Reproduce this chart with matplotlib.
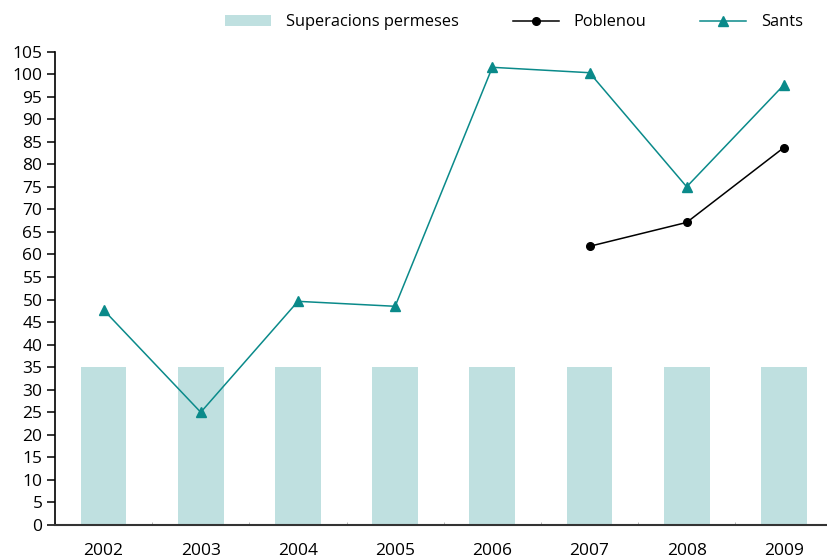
import numpy as np
import matplotlib
matplotlib.use("Agg")
import matplotlib.pyplot as plt

# datos
anys = ["2002", "2003", "2004", "2005", "2006", "2007", "2008", "2009"]
superacions = [35, 35, 35, 35, 35, 35, 35, 35]
sants = [47.7, 25, 49.6, 48.5, 101.5, 100.3, 75, 97.6]
poblenou = [np.nan, np.nan, np.nan, np.nan, np.nan, 61.8, 67.1, 83.7]

plt.rcParams['font.family'] = ['Open Sans', 'DejaVu Sans']

fig = plt.figure(figsize=(8.28, 5.6), dpi=100)
ax = fig.add_axes([0.0664, 0.0625, 0.939, 0.8455])

x = np.arange(len(anys))
b = ax.bar(x, superacions, width=0.47, color="#bfe0e0", label="Superacions permeses", zorder=1)
l1, = ax.plot(x, poblenou, color="black", lw=1.1, marker="o", ms=5.5, label="Poblenou", zorder=3)
l2, = ax.plot(x, sants, color="#0a8a8a", lw=1.1, marker="^", ms=6.5, label="Sants", zorder=3)

ax.set_xlim(-0.5, 7.5)
ax.set_ylim(0, 105)
ax.set_yticks(np.arange(0, 106, 5))
ax.set_xticks(x)
ax.set_xticklabels(anys)
ax.set_xticks(np.arange(-0.5, 8, 1), minor=True)

ax.spines['top'].set_visible(False)
ax.spines['right'].set_visible(False)
ax.spines['left'].set_linewidth(1.2)
ax.spines['bottom'].set_linewidth(1.5)
ax.spines['bottom'].set_color("#333333")

ax.tick_params(axis='y', length=6, width=1.1, labelsize=12.5, pad=3)
ax.tick_params(axis='x', which='major', length=0, labelsize=12.5, pad=13)
ax.tick_params(axis='x', which='minor', length=2, direction='in', color="#aaaaaa")

fig.legend(handles=[b, l1, l2], loc="center", bbox_to_anchor=(0.621, 0.96), ncol=3, frameon=False,
           fontsize=11.8, handlelength=2.8, handletextpad=0.9, columnspacing=3.3)

fig.savefig("out.png", dpi=100)
plt.close()
